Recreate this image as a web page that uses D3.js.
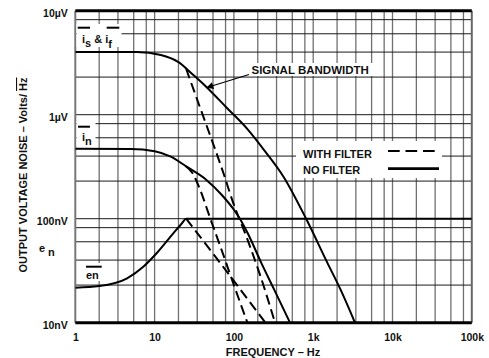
<!DOCTYPE html>
<html>
<head>
<meta charset="utf-8">
<script src="https://cdn.jsdelivr.net/npm/d3@7"></script>
<style>
  body { margin: 0; background: #fff; }
  text { font-family: 'Liberation Sans', Arial, sans-serif; font-weight: bold; fill: #111; }
</style>
</head>
<body>
<script>
const frequencias = [1, 10, 100, 1000, 10000, 100000]
const rotulosFreq = ['1', '10', '100', '1k', '10k', '100k']
const ruidos = [10, 100, 1000, 10000]
const rotulosRuido = ['10nV', '100nV', '1µV', '10µV']
const passosFreq = [2, 3.45, 5.45, 7.85]
const passosRuido = [2.3, 4, 6, 8.2]

// pontos [Hz, nV]
const isIfSemFiltro = [[1, 4000], [6, 4000], [12, 3750], [20, 3200], [30, 2450], [45, 1850],
  [80, 1180], [150, 720], [250, 440], [420, 255], [830, 97], [1500, 38], [2200, 21], [3365, 10]]
const isIfComFiltro = [[25, 2760], [37, 1200], [55, 520], [72, 290], [98, 142], [145, 66],
  [213, 29], [330, 10]]
const inSemFiltro = [[1, 470], [5, 468], [10, 445], [16, 395], [25, 318], [45, 236], [70, 170],
  [100, 122], [119, 100], [150, 72], [220, 38], [320, 21], [510, 10]]
const inComFiltro = [[25, 318], [30, 275], [37, 195], [50, 102], [70, 50], [100, 23], [148, 10]]
const enSemFiltro = [[1, 21.7], [2, 22.5], [4.5, 26.7], [7.2, 34.5], [10.6, 46.5], [17.2, 72.4],
  [22, 90], [25, 100], [1000, 100], [100000, 100]]
const enComFiltro = [[25, 100], [60, 42], [250, 10]]

const margem = {topo: 10.7, direita: 17.2, base: 35.3, esquerda: 75.3}
const largura = 489 - margem.esquerda - margem.direita
const altura = 358 - margem.topo - margem.base

var svg = d3.select('body').append('svg')
            .attr('width', 489)
            .attr('height', 358)

var grupo = svg.append('g')
               .attr('transform', 'translate(' + margem.esquerda + ',' + margem.topo + ')')

var escalaX = d3.scaleLog().domain([1, 100000]).range([0, largura])
var escalaY = d3.scaleLog().domain([10, 10000]).range([altura, 0])

grupo.append('clipPath').attr('id', 'area')
     .append('rect').attr('width', largura).attr('height', altura)

// grade
var linhasX = []
frequencias.slice(0, -1).forEach(function (d, i) {
  if (i > 0) linhasX.push(d)
  passosFreq.forEach(function (p) { linhasX.push(d * p) })
})
var linhasY = []
ruidos.slice(0, -1).forEach(function (d, i) {
  if (i > 0) linhasY.push(d)
  passosRuido.forEach(function (p) { linhasY.push(d * p) })
})

grupo.selectAll('.gradeX').data(linhasX).enter().append('line')
     .attr('class', 'gradeX')
     .attr('x1', d => escalaX(d)).attr('x2', d => escalaX(d))
     .attr('y1', 0).attr('y2', altura)
     .attr('stroke', '#707070').attr('stroke-width', 1.3)

grupo.selectAll('.gradeY').data(linhasY).enter().append('line')
     .attr('class', 'gradeY')
     .attr('x1', 0).attr('x2', largura)
     .attr('y1', d => escalaY(d)).attr('y2', d => escalaY(d))
     .attr('stroke', '#1a1a1a').attr('stroke-width', 1)

// bordas
grupo.append('line').attr('x1', 0).attr('x2', 0).attr('y1', 0).attr('y2', altura)
     .attr('stroke', '#777').attr('stroke-width', 2)
grupo.append('line').attr('x1', largura).attr('x2', largura).attr('y1', 0).attr('y2', altura)
     .attr('stroke', '#666').attr('stroke-width', 2)
grupo.append('line').attr('x1', 0).attr('x2', largura).attr('y1', 0).attr('y2', 0)
     .attr('stroke', '#000').attr('stroke-width', 3)
grupo.append('line').attr('x1', 0).attr('x2', largura).attr('y1', altura).attr('y2', altura)
     .attr('stroke', '#000').attr('stroke-width', 3)

// caixas brancas atras dos rotulos
function caixa (x, y, w, h) {
  svg.append('rect').attr('x', x).attr('y', y).attr('width', w).attr('height', h).attr('fill', '#fff')
}
caixa(76.5, 24, 45, 23)
caixa(76.5, 121, 19, 25)
caixa(84, 263, 19, 18)
caixa(249, 63, 124, 13)
caixa(296, 141, 146, 37)

// curvas
var gerador = d3.line()
                .x(d => escalaX(d[0]))
                .y(d => escalaY(d[1]))
                .curve(d3.curveMonotoneX)

var curvas = grupo.append('g').attr('clip-path', 'url(#area)')

;[isIfSemFiltro, inSemFiltro, enSemFiltro].forEach(function (serie) {
  curvas.append('path').attr('d', gerador(serie))
        .attr('fill', 'none').attr('stroke', '#000').attr('stroke-width', 2)
})
;[isIfComFiltro, inComFiltro, enComFiltro].forEach(function (serie) {
  curvas.append('path').attr('d', gerador(serie))
        .attr('fill', 'none').attr('stroke', '#000').attr('stroke-width', 2)
        .attr('stroke-dasharray', '10,5')
})

// eixos
var eixoBase = d3.axisBottom(escalaX)
                 .tickValues(frequencias)
                 .tickFormat((d, i) => rotulosFreq[i])
                 .tickSize(0)
                 .tickPadding(10.5)
var eixoEsquerda = d3.axisLeft(escalaY)
                     .tickValues(ruidos)
                     .tickFormat((d, i) => rotulosRuido[i])
                     .tickSize(0)
                     .tickPadding(7.5)

var gBase = grupo.append('g').attr('transform', 'translate(0,' + altura + ')').call(eixoBase)
var gEsquerda = grupo.append('g').call(eixoEsquerda)
gBase.select('.domain').remove()
gEsquerda.select('.domain').remove()
gBase.selectAll('text').style('font-size', '10.5px').attr('fill', '#111')
gEsquerda.selectAll('text').style('font-size', '10.5px').attr('fill', '#111').attr('dy', '0.55em')
svg.selectAll('.tick text').style('font-family', "'Liberation Sans', Arial, sans-serif").style('font-weight', 'bold')

svg.append('text').attr('x', 273).attr('y', 356).attr('text-anchor', 'middle')
   .style('font-size', '11px').text('FREQUENCY – Hz')

var tituloY = svg.append('text')
                 .attr('transform', 'translate(27,175) rotate(-90)')
                 .attr('text-anchor', 'middle')
                 .style('font-size', '11px')
tituloY.append('tspan').text('OUTPUT VOLTAGE NOISE – Volts/ ')
tituloY.append('tspan').text('Hz').style('text-decoration', 'overline')

// rotulos das curvas
function barra (x1, x2, y) {
  svg.append('line').attr('x1', x1).attr('x2', x2).attr('y1', y).attr('y2', y)
     .attr('stroke', '#000').attr('stroke-width', 2)
}
var tIs = svg.append('text').attr('x', 82).attr('y', 43).style('font-size', '11px')
tIs.append('tspan').text('i')
tIs.append('tspan').attr('dy', 3.5).text('s')
tIs.append('tspan').attr('dy', -3.5).text(' & i')
tIs.append('tspan').attr('dy', 4.5).text('f')
barra(77.7, 90, 27.7)
barra(106.7, 119.3, 27.7)

var tIn = svg.append('text').attr('x', 82).attr('y', 141).style('font-size', '11px')
tIn.append('tspan').text('i')
tIn.append('tspan').attr('dy', 4).text('n')
barra(78, 90, 126.7)

svg.append('text').attr('x', 86).attr('y', 279).style('font-size', '11px').text('en')
barra(86, 101.7, 266.7)

var tE = svg.append('text').attr('y', 252).style('font-size', '11px')
tE.append('tspan').attr('x', 39).text('e')
tE.append('tspan').attr('x', 48).attr('dy', 4).text('n')

// sinal e seta
svg.append('text').attr('x', 251.5).attr('y', 74).style('font-size', '11.5px').text('SIGNAL BANDWIDTH')
svg.append('defs').append('marker').attr('id', 'seta')
   .attr('viewBox', '0 0 10 10').attr('refX', 9).attr('refY', 5)
   .attr('markerWidth', 9).attr('markerHeight', 7).attr('markerUnits', 'userSpaceOnUse')
   .attr('orient', 'auto')
   .append('path').attr('d', 'M0,0L10,5L0,10Z').attr('fill', '#000')
svg.append('line').attr('x1', 249).attr('y1', 74.5).attr('x2', 207).attr('y2', 87.5)
   .attr('stroke', '#000').attr('stroke-width', 1.2).attr('marker-end', 'url(#seta)')

// legenda
svg.append('text').attr('x', 303).attr('y', 157.5).style('font-size', '11px').text('WITH FILTER')
svg.append('text').attr('x', 303).attr('y', 174.3).style('font-size', '11px').text('NO FILTER')
svg.append('line').attr('x1', 388).attr('x2', 435).attr('y1', 151).attr('y2', 151)
   .attr('stroke', '#000').attr('stroke-width', 2).attr('stroke-dasharray', '11.7,5.8')
svg.append('line').attr('x1', 388).attr('x2', 439).attr('y1', 168.7).attr('y2', 168.7)
   .attr('stroke', '#000').attr('stroke-width', 2.8)
</script>
</body>
</html>
